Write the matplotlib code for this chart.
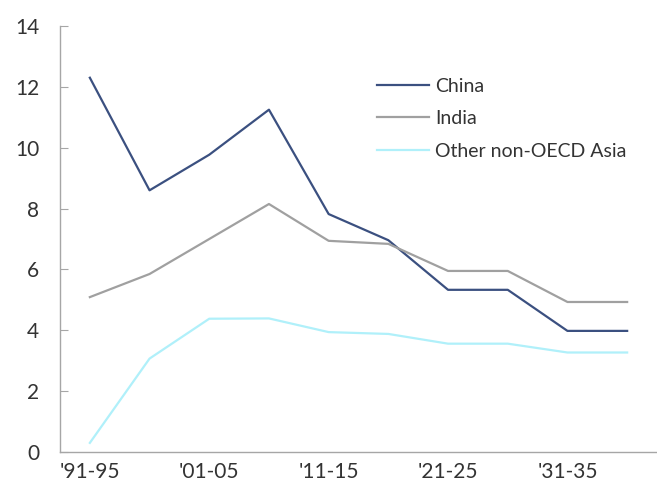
import numpy as np
import matplotlib
matplotlib.use('Agg')
import matplotlib.pyplot as plt

periods = ["'91-95", "'96-00", "'01-05", "'06-10", "'11-15",
           "'16-20", "'21-25", "'26-30", "'31-35", "'36-40"]
china = [12.3, 8.6, 9.77, 11.25, 7.82, 6.96, 5.33, 5.33, 3.98, 3.98]
india = [5.09, 5.85, 7.0, 8.15, 6.94, 6.84, 5.95, 5.95, 4.93, 4.93]
other = [0.3, 3.07, 4.38, 4.39, 3.94, 3.88, 3.56, 3.56, 3.27, 3.27]

plt.rcParams['font.family'] = ['Lato', 'DejaVu Sans']

fig = plt.figure(figsize=(6.57, 4.88), dpi=100)
ax = fig.add_axes([60 / 657, 1 - 452 / 488, 597 / 657, 426 / 488])

x = np.arange(len(periods)) + 0.5
ax.plot(x, china, color='#3B5080', lw=1.6, label='China')
ax.plot(x, india, color='#A0A0A0', lw=1.6, label='India')
ax.plot(x, other, color='#B0F0FA', lw=1.6, label='Other non-OECD Asia')

ax.set_xlim(0, 10)
ax.set_ylim(0, 14)
ax.set_yticks(range(0, 15, 2))
ax.set_xticks(x[::2])
ax.set_xticklabels(periods[::2])

for s in ['top', 'right']:
    ax.spines[s].set_visible(False)
for s in ['left', 'bottom']:
    ax.spines[s].set_color('#A6A6A6')
    ax.spines[s].set_linewidth(1.0)

ax.tick_params(axis='y', direction='in', length=6, color='#A6A6A6',
               labelsize=15, labelcolor='#333333', pad=15)
ax.tick_params(axis='x', length=0, labelsize=15, labelcolor='#333333', pad=7)

leg = ax.legend(loc='upper left', bbox_to_anchor=(0.501, 0.92), frameon=False,
                fontsize=14, handlelength=2.7, handletextpad=0.3,
                labelspacing=0.8, labelcolor='#333333')

fig.savefig('out.png', dpi=100)
